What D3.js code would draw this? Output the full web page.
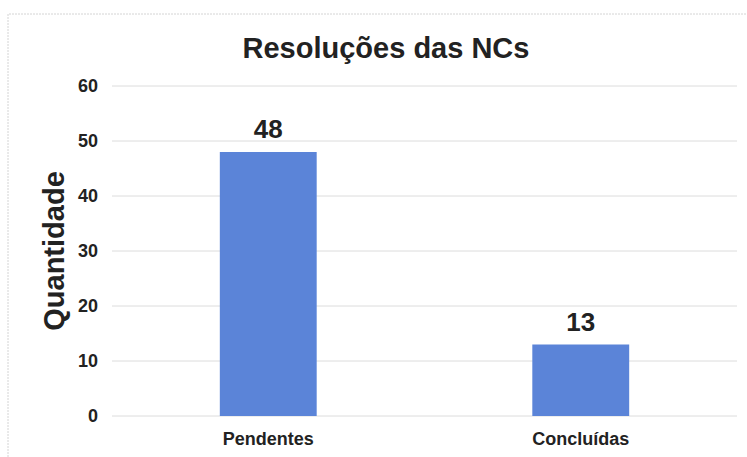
<!DOCTYPE html>
<html>
<head>
<meta charset="utf-8">
<script src="https://cdn.jsdelivr.net/npm/d3@7"></script>
<style>
  body { margin: 0; background: #fff; }
  text { font-family: "Liberation Sans", Arial, sans-serif; }
</style>
</head>
<body>
<div id="chart"></div>
<script>
const categories = ["Pendentes", "Concluídas"]
const values = [48, 13]
const yTicks = [0, 10, 20, 30, 40, 50, 60]

const W = 747, H = 457
const margin = { top: 86, right: 10, bottom: 41, left: 112 }
const width = W - margin.left - margin.right
const height = H - margin.top - margin.bottom

const svg = d3.select("#chart").append("svg")
  .attr("width", W)
  .attr("height", H)

// faint chart border (scan)
svg.append("path")
  .attr("d", `M8,${H} L8,14 L${W},14`)
  .attr("fill", "none")
  .attr("stroke", "#d4d4d4")
  .attr("stroke-dasharray", "2,1")

const g = svg.append("g")
  .attr("transform", `translate(${margin.left},${margin.top})`)

const x = d3.scaleBand()
  .domain(categories)
  .range([0, width])
  .paddingInner(0.69)
  .paddingOuter(0.345)

const y = d3.scaleLinear()
  .domain([0, 60])
  .range([height, 0])

// gridlines
g.selectAll(".grid")
  .data(yTicks)
  .join("line")
  .attr("class", "grid")
  .attr("x1", 0)
  .attr("x2", width)
  .attr("y1", d => y(d))
  .attr("y2", d => y(d))
  .attr("stroke", "#dcdcdc")
  .attr("stroke-width", 1)

// y axis labels
const yAxis = g.append("g")
  .call(d3.axisLeft(y).tickValues(yTicks).tickSize(0).tickPadding(14))
yAxis.select(".domain").remove()
yAxis.selectAll("text")
  .attr("font-size", 18)
  .attr("font-weight", "bold")
  .attr("fill", "#222")

// bars
g.selectAll(".bar")
  .data(values)
  .join("rect")
  .attr("class", "bar")
  .attr("x", (d, i) => x(categories[i]))
  .attr("width", x.bandwidth())
  .attr("y", d => y(d))
  .attr("height", d => height - y(d))
  .attr("fill", "#5b84d8")

// value labels
g.selectAll(".val")
  .data(values)
  .join("text")
  .attr("class", "val")
  .attr("x", (d, i) => x(categories[i]) + x.bandwidth() / 2)
  .attr("y", d => y(d) - 14)
  .attr("text-anchor", "middle")
  .attr("font-size", 26)
  .attr("font-weight", "bold")
  .attr("fill", "#222")
  .text(d => d)

// x axis labels
const xAxis = g.append("g")
  .attr("transform", `translate(0,${height})`)
  .call(d3.axisBottom(x).tickSize(0).tickPadding(16))
xAxis.select(".domain").remove()
xAxis.selectAll("text")
  .attr("font-size", 18)
  .attr("font-weight", "bold")
  .attr("fill", "#222")

// title
svg.append("text")
  .attr("x", 386)
  .attr("y", 58)
  .attr("text-anchor", "middle")
  .attr("font-size", 29)
  .attr("font-weight", "bold")
  .attr("fill", "#222")
  .text("Resoluções das NCs")

// y axis title
svg.append("text")
  .attr("transform", `translate(64,${margin.top + height / 2}) rotate(-90)`)
  .attr("text-anchor", "middle")
  .attr("font-size", 29)
  .attr("font-weight", "bold")
  .attr("fill", "#222")
  .text("Quantidade")
</script>
</body>
</html>
